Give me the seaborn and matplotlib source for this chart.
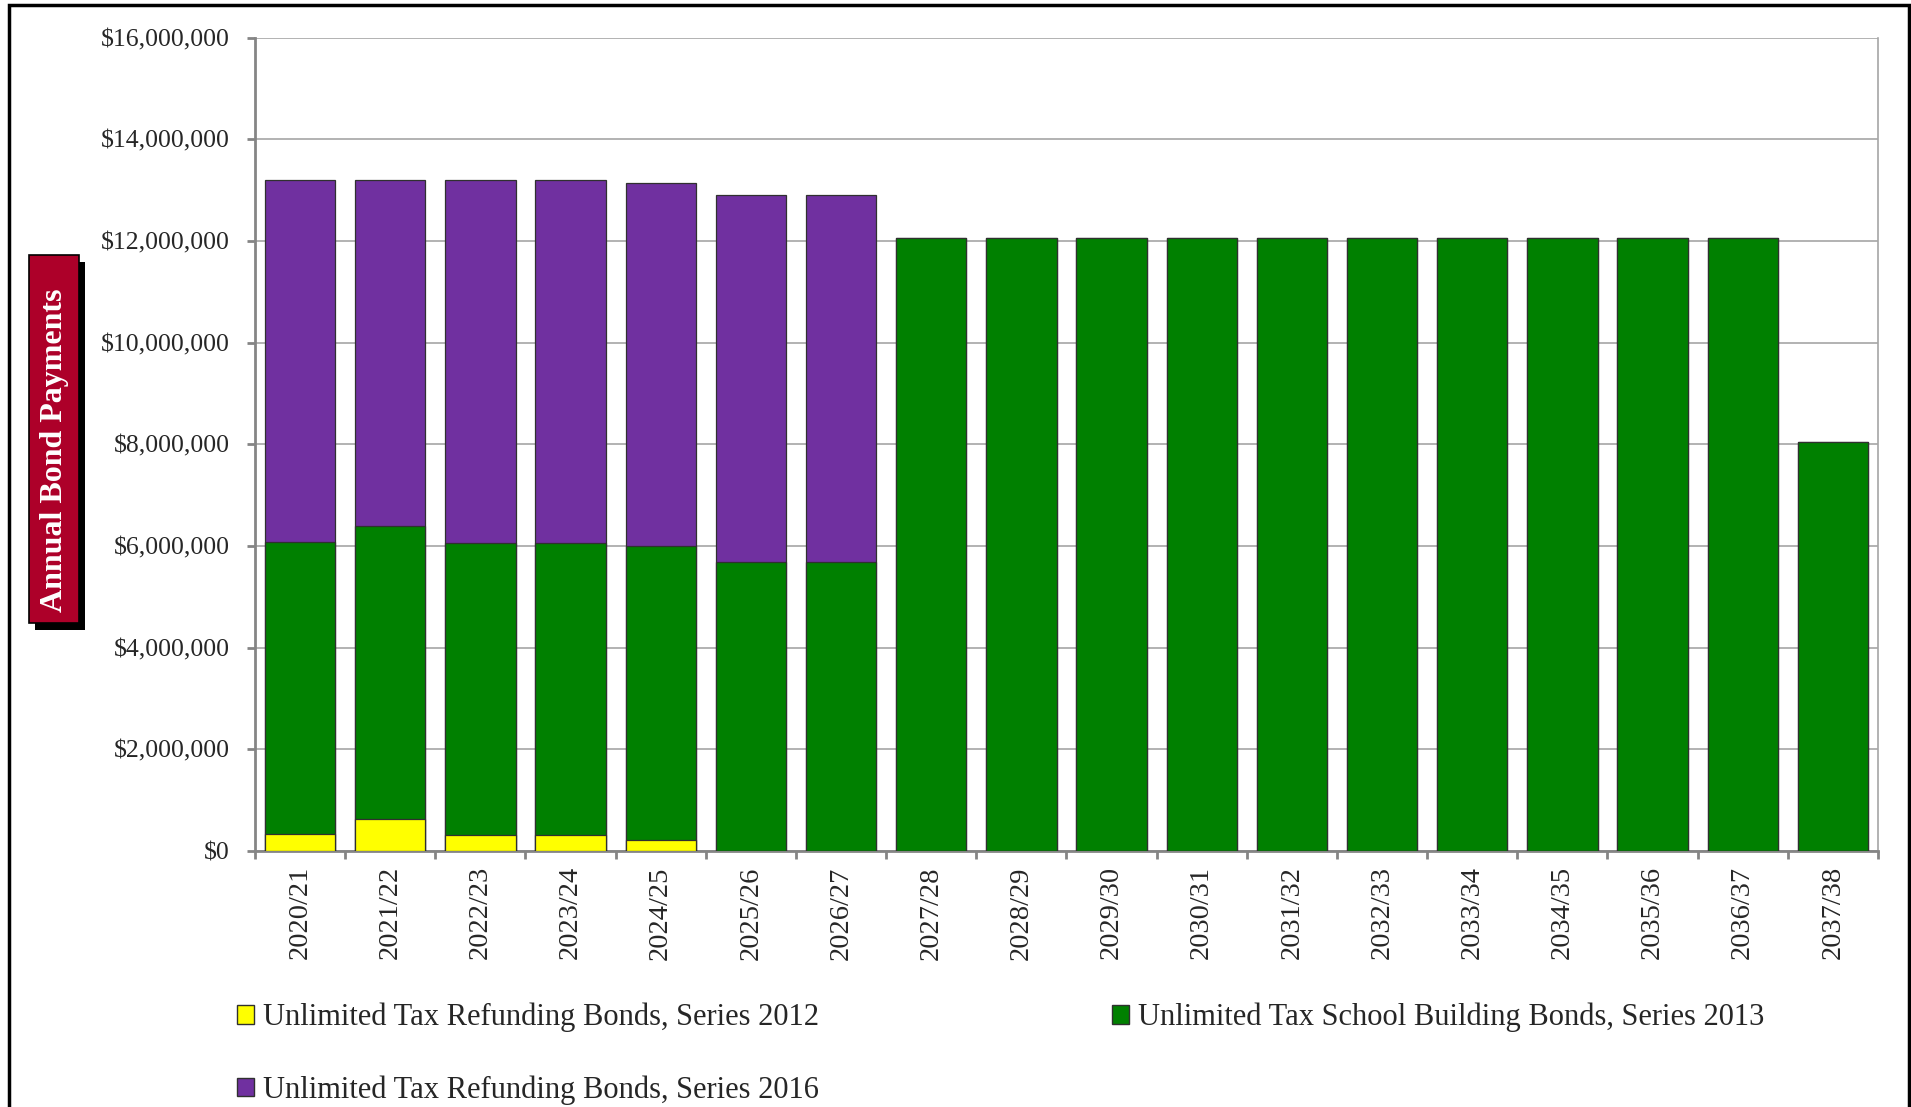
import numpy as np
import pandas as pd
import matplotlib
matplotlib.use('Agg')
import matplotlib.pyplot as plt
import seaborn as sns
from matplotlib.patches import Patch, Rectangle
from matplotlib.ticker import FuncFormatter, FixedLocator

# Dados do gráfico (pagamentos anuais por série de títulos)
anos = ['2020/21', '2021/22', '2022/23', '2023/24', '2024/25', '2025/26',
        '2026/27', '2027/28', '2028/29', '2029/30', '2030/31', '2031/32',
        '2032/33', '2033/34', '2034/35', '2035/36', '2036/37', '2037/38']

serie_2012 = [335000, 630000, 315000, 315000, 215000, 0, 0, 0, 0, 0, 0, 0,
              0, 0, 0, 0, 0, 0]
serie_2013 = [5745000, 5760000, 5745000, 5745000, 5775000, 5690000, 5690000,
              12060000, 12060000, 12060000, 12060000, 12060000, 12060000,
              12060000, 12060000, 12060000, 12060000, 8050000]
serie_2016 = [7110000, 6800000, 7130000, 7130000, 7140000, 7210000, 7210000,
              0, 0, 0, 0, 0, 0, 0, 0, 0, 0, 0]

nomes = ['Unlimited Tax Refunding Bonds, Series 2012',
         'Unlimited Tax School Building Bonds, Series 2013',
         'Unlimited Tax Refunding Bonds, Series 2016']
cores = ['#FFFF00', '#008000', '#7030A0']

df = pd.DataFrame({'ano': anos, 's2012': serie_2012,
                   's2013': serie_2013, 's2016': serie_2016})
# valores acumulados para empilhar
df['ate_2013'] = df['s2012'] + df['s2013']
df['total'] = df['ate_2013'] + df['s2016']

sns.set_style('white')
plt.rcParams['font.family'] = ['Liberation Serif', 'DejaVu Serif']

fig = plt.figure(figsize=(19.11, 11.07), dpi=100)
ax = fig.add_axes([0.1334, 0.2313, 0.8493, 0.7348])

largura = 0.78
kw = dict(width=largura, edgecolor='#303030', linewidth=0.9, zorder=3)
sns.barplot(data=df, x='ano', y='total', color=cores[2], ax=ax, **kw)
sns.barplot(data=df, x='ano', y='ate_2013', color=cores[1], ax=ax, **kw)
sns.barplot(data=df, x='ano', y='s2012', color=cores[0], ax=ax, **kw)
# seaborn dessatura as cores; forçar as cores originais
n = len(anos)
for i, p in enumerate(ax.patches):
    p.set_facecolor(cores[2 - i // n])

ax.set_xlim(-0.5, n - 0.5)
ax.set_ylim(0, 16000000)
ax.set_yticks(np.arange(0, 16000001, 2000000))
ax.yaxis.set_major_formatter(FuncFormatter(lambda v, _: '${:,.0f}'.format(v)))
ax.set_xlabel('')
ax.set_ylabel('')

ax.grid(axis='y', color='#A6A6A6', linewidth=1.2, zorder=0)
ax.set_axisbelow(True)
for lado in ['left', 'bottom']:
    ax.spines[lado].set_color('#858585')
    ax.spines[lado].set_linewidth(2.0)
ax.spines['right'].set_color('#A6A6A6')
ax.spines['right'].set_linewidth(1.2)
ax.spines['top'].set_visible(False)

ax.tick_params(axis='y', which='major', left=True, length=6, width=2.0,
               color='#858585', pad=12, labelsize=18.5)
ax.tick_params(axis='x', which='major', bottom=False, length=0, pad=11,
               labelsize=20.5, labelrotation=90)
ax.xaxis.set_minor_locator(FixedLocator(np.arange(-0.5, n, 1.0)))
ax.tick_params(axis='x', which='minor', bottom=True, length=6, width=2.0,
               color='#858585')

# Rótulo do eixo y em caixa vermelha com sombra
sombra = Rectangle((35 / 1911, 1 - 630 / 1107), 50 / 1911, 368 / 1107,
                   transform=fig.transFigure, facecolor='black',
                   edgecolor='none', zorder=1)
caixa = Rectangle((29 / 1911, 1 - 623 / 1107), 50 / 1911, 368 / 1107,
                  transform=fig.transFigure, facecolor='#AD0029',
                  edgecolor='black', linewidth=1.2, zorder=2)
fig.patches.extend([sombra, caixa])
fig.text(55 / 1911, 1 - 450 / 1107, 'Annual Bond Payments', rotation=90,
         color='white', fontsize=23, fontweight='bold',
         ha='center', va='center', zorder=3)

# Moldura externa
moldura = Rectangle((9 / 1911, -0.05), 1900 / 1911, 1.05 - 5 / 1107,
                    transform=fig.transFigure, fill=False,
                    edgecolor='black', linewidth=2.5)
fig.patches.append(moldura)

# Legenda
alcas = [Patch(facecolor=cores[0], edgecolor='#303030', label=nomes[0]),
         Patch(facecolor=cores[2], edgecolor='#303030', label=nomes[2]),
         Patch(facecolor=cores[1], edgecolor='#303030', label=nomes[1])]
fig.legend(handles=alcas, ncol=2, loc='upper left',
           bbox_to_anchor=(237 / 1911, 1 - 1003 / 1107), frameon=False,
           fontsize=22, handlelength=0.55, handleheight=0.55,
           handletextpad=0.3, labelspacing=1.4, columnspacing=9.6,
           borderaxespad=0, borderpad=0)

fig.savefig('out.png', dpi=100)
